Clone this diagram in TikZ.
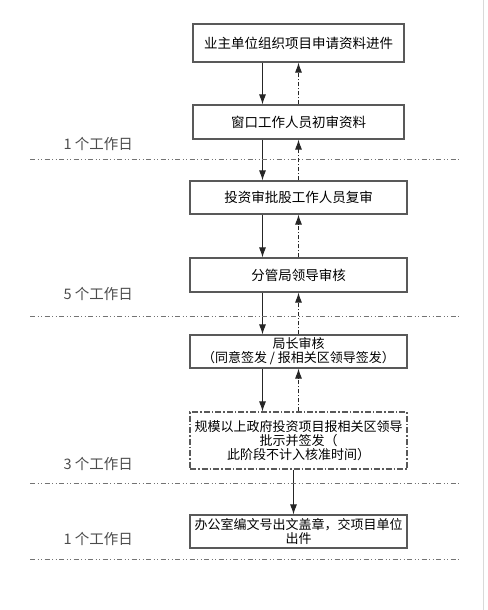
\documentclass[tikz,border=0pt]{standalone}
\usepackage{fontspec}
\newfontfamily\cjk{Noto Sans CJK SC}
\usetikzlibrary{arrows.meta, positioning}

\tikzset{
  stepbox/.style={draw=black!65, line width=1.1pt, fill=white, align=center,
    inner sep=1pt, font=\fontsize{13.5}{14}\selectfont\cjk},
  widebox/.style={stepbox, font=\fontsize{13}{14}\selectfont\cjk},
  optbox/.style={widebox, dash pattern=on 6pt off 2pt on 1.5pt off 2pt},
  flow/.style={->, draw=black!85, line width=0.9pt},
  back/.style={->, draw=black!85, line width=0.9pt,
    dash pattern=on 4pt off 2pt on 1pt off 2pt},
  sep/.style={draw=black!55, line width=0.9pt,
    dash pattern=on 5pt off 2.5pt on 1pt off 2.5pt on 1pt off 2.5pt},
  days/.style={text=black!70, font=\fontsize{14.5}{15}\selectfont\cjk, anchor=west}
}

\begin{document}
\begin{tikzpicture}[x=1pt, y=-1pt, >={Latex[length=10pt,width=7pt]}]
  \useasboundingbox (0,0) rectangle (487,610);
  \draw[black!15, line width=1pt] (483,0) -- (483,610);

  % process steps
  \node[stepbox, minimum width=211pt, minimum height=38pt] (b1) at (298.5,43)
    {业主单位组织项目申请资料进件};
  \node[stepbox, minimum width=211pt, minimum height=34pt] (b2) at (298.5,122)
    {窗口工作人员初审资料};
  \node[stepbox, minimum width=217pt, minimum height=33pt] (b3) at (298.5,197.5)
    {投资审批股工作人员复审};
  \node[stepbox, minimum width=217pt, minimum height=34pt] (b4) at (298.5,275)
    {分管局领导审核};
  \node[widebox, minimum width=217pt, minimum height=33pt] (b5) at (298.5,351.5)
    {局长审核\\（同意签发 / 报相关区领导签发）};
  \node[optbox, minimum width=217pt, minimum height=57pt] (b6) at (298.5,440.5)
    {规模以上政府投资项目报相关区领导\\批示并签发（\\此阶段不计入核准时间）};
  \node[widebox, minimum width=217pt, minimum height=33pt] (b7) at (298.5,531.5)
    {办公室编文号出文盖章，交项目单位\\出件};

  % forward (solid) and return (dash-dot) arrows
  \foreach \a/\b in {b1/b2, b2/b3, b3/b4, b4/b5, b5/b6} {
    \draw[flow] ([xshift=-36pt]\a.south) -- ([xshift=-36pt]\b.north);
    \draw[back] (\b.north) -- (\a.south);
  }
  \draw[flow] ([xshift=-5pt]b6.south) -- ([xshift=-5pt]b7.north);

  % working-day separators
  \foreach \y in {159, 316, 483, 559} {
    \draw[sep] (30,\y) -- (460,\y);
  }
  \node[days] (d1) at (60,144) {1 个工作日};
  \node[days] (d2) at (60,294) {5 个工作日};
  \node[days] (d3) at (60,464) {3 个工作日};
  \node[days] (d4) at (60,539) {1 个工作日};
\end{tikzpicture}
\end{document}
